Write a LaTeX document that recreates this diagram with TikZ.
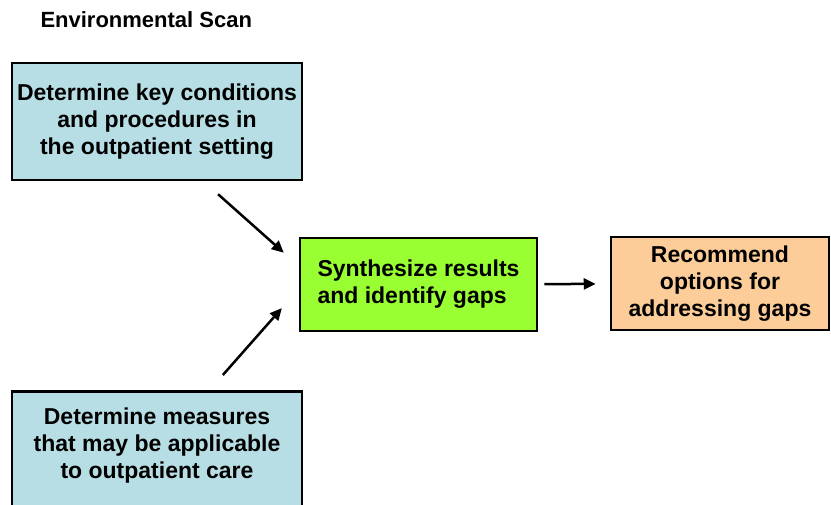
\documentclass[tikz,border=0pt]{standalone}
\usepackage{fontspec}
\setmainfont{Liberation Sans}
\usetikzlibrary{positioning, arrows.meta}

\definecolor{scanblue}{RGB}{183,222,228}
\definecolor{synthgreen}{RGB}{153,255,51}
\definecolor{recorange}{RGB}{252,204,153}

\begin{document}
\begin{tikzpicture}[x=1pt, y=-1pt,
    box/.style={draw, line width=2.5pt, inner sep=0pt},
    boxtext/.style={font=\fontsize{23}{27}\selectfont\bfseries},
    flow/.style={-{Triangle[length=12pt, width=11pt]}, line width=2.5pt}]
    \useasboundingbox (0,0) rectangle (831,504);

    \node[anchor=base west, font=\fontsize{22}{26}\selectfont\bfseries] (title) at (37,27) {Environmental Scan};

    \node[box, boxtext, align=center, fill=scanblue, minimum width=290pt, minimum height=117pt] (cond) at (157,121.5)
        {Determine key conditions\\ and procedures in\\ the outpatient setting};

    \node[box, fill=scanblue, minimum width=290pt, minimum height=130pt, anchor=north,
        label={[boxtext, align=center, yshift=11pt]center:{Determine measures\\ that may be applicable\\ to outpatient care}}] (meas) at (157,390) {};

    \node[box, boxtext, align=left, fill=synthgreen, minimum width=237pt, minimum height=93pt] (synth) at (418.5,284.5)
        {Synthesize results\\ and identify gaps};

    \node[box, boxtext, align=center, fill=recorange, minimum width=218pt, minimum height=93pt] (rec) at (720,283.5)
        {Recommend\\ options for\\ addressing gaps};

    \draw[flow, shorten <=19.5pt, shorten >=20pt] ([xshift=46.5pt]cond.south) -- ([yshift=18.5pt]synth.west);
    \draw[flow, shorten <=20pt, shorten >=25.5pt] ([xshift=52.6pt]meas.north) -- ([yshift=-4.5pt]synth.west);
    \draw[flow, shorten <=6pt, shorten >=14pt] (synth) -- (rec);
\end{tikzpicture}
\end{document}
